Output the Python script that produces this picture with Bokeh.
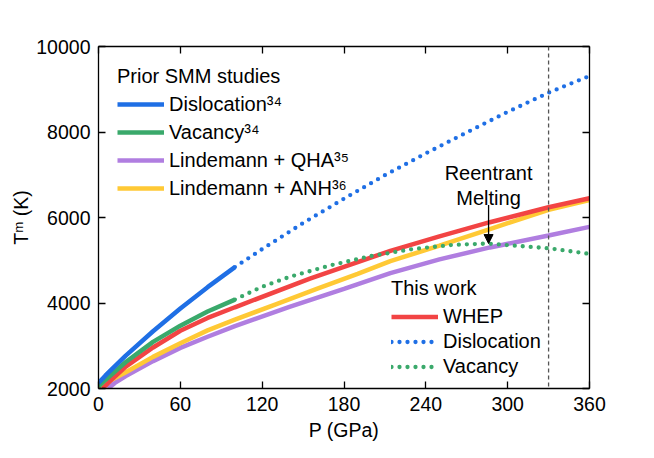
from bokeh.plotting import figure
from bokeh.models import (Legend, LegendItem, Span, Label, Arrow, NormalHead,
                          LinearAxis, FixedTicker, CustomJSTickFormatter, Range1d)
from bokeh.embed import file_html
from bokeh.resources import INLINE

# ---- data ----
x_ticks = [0, 60, 120, 180, 240, 300, 360]
y_ticks = [2000, 4000, 6000, 8000, 10000]

P_disl_prior = [0, 5, 10, 20, 40, 60, 80, 100]
T_disl_prior = [2130, 2300, 2460, 2770, 3340, 3870, 4370, 4840]
P_vac_prior = [0, 5, 10, 20, 40, 60, 80, 100]
T_vac_prior = [2050, 2200, 2340, 2620, 3090, 3470, 3800, 4080]
P_qha = [7, 12, 20, 40, 60, 80, 100, 140, 180, 214, 250, 287, 330, 360]
T_qha = [2000, 2130, 2290, 2640, 2950, 3210, 3460, 3910, 4330, 4700, 5020, 5300, 5580, 5780]
P_anh = [0, 5, 10, 20, 40, 60, 80, 100, 130, 160, 190, 214, 250, 287, 330, 360]
T_anh = [2040, 2130, 2210, 2380, 2740, 3060, 3360, 3610, 3970, 4330, 4680, 4980, 5340, 5730, 6180, 6410]
P_whep = [3, 10, 20, 40, 60, 80, 100, 155, 214, 250, 287, 330, 360]
T_whep = [2000, 2220, 2510, 2960, 3350, 3650, 3900, 4570, 5220, 5560, 5890, 6240, 6450]
P_disl = [100, 120, 150, 180, 210, 240, 270, 300, 330, 360]
T_disl = [4840, 5260, 5870, 6440, 6990, 7500, 7990, 8470, 8920, 9310]
P_vac = [100, 120, 140, 170, 200, 230, 260, 285, 310, 330, 360]
T_vac = [4080, 4380, 4610, 4880, 5100, 5260, 5360, 5390, 5330, 5280, 5150]

ICB_P = 330
REENTRANT_P = 286
ARROW_T_START = 6290
ARROW_T_END = 5390
LABEL1_T = 7035
LABEL2_T = 6450

BLUE = "#1f6fe5"
GREEN = "#3aa96b"
RED = "#f24444"
PURPLE = "#b07ee0"
YELLOW = "#ffc935"

FONT = "Liberation Sans"
FS = "19.5px"
FS_LEG = "20px"

p = figure(width=646, height=450, output_backend="svg", toolbar_location=None,
           x_range=Range1d(0, 360), y_range=Range1d(2000, 10000),
           min_border_left=98, min_border_right=57, min_border_top=46, min_border_bottom=62,
           x_axis_label="P (GPa)", y_axis_label="Tᵐ (K)")
p.grid.visible = False
p.outline_line_color = None
p.background_fill_color = "white"
p.border_fill_color = "white"

p.add_layout(LinearAxis(), "above")
p.add_layout(LinearAxis(), "right")

for ax in p.xaxis:
    ax.ticker = FixedTicker(ticks=x_ticks)
for ax in p.yaxis:
    ax.ticker = FixedTicker(ticks=y_ticks)
for ax in p.axis:
    ax.major_tick_in = 7
    ax.major_tick_out = 0
    ax.minor_tick_line_color = None
    ax.axis_line_width = 1.3
    ax.axis_line_color = "black"
    ax.major_tick_line_color = "black"
    ax.major_tick_line_width = 1.3
    ax.major_label_text_font = FONT
    ax.major_label_text_font_size = FS
    ax.major_label_text_color = "black"
    ax.axis_label_text_font = FONT
    ax.axis_label_text_font_size = FS
    ax.axis_label_text_font_style = "normal"
    ax.axis_label_text_color = "black"
    ax.major_label_standoff = 8

blank = CustomJSTickFormatter(code="return ''")
p.above[0].formatter = blank
p.right[0].formatter = blank
p.above[0].major_label_standoff = 0
p.right[0].major_label_standoff = 0
p.xaxis[0].major_label_standoff = 10
p.yaxis[0].axis_label_standoff = 1
p.xaxis[0].axis_label_standoff = 7

# ---- lines ----
LW = 4.5
r_qha = p.line(P_qha, T_qha, color=PURPLE, line_width=LW)
r_anh = p.line(P_anh, T_anh, color=YELLOW, line_width=LW)
r_whep = p.line(P_whep, T_whep, color=RED, line_width=LW)
r_vacp = p.line(P_vac_prior, T_vac_prior, color=GREEN, line_width=LW)
r_dislp = p.line(P_disl_prior, T_disl_prior, color=BLUE, line_width=LW)
r_vac = p.line(P_vac, T_vac, color=GREEN, line_width=4.3, line_dash="0 8", line_cap="round")
r_disl = p.line(P_disl, T_disl, color=BLUE, line_width=4.3, line_dash="0 8", line_cap="round")

# ---- ICB ----
p.add_layout(Span(location=ICB_P, dimension="height", line_color="#555555",
                  line_width=1.3, line_dash="4 3"))
p.add_layout(Label(x=ICB_P, y=10000, text="ICB (P = 330 GPa)", text_align="center",
                   text_baseline="alphabetic", y_offset=10.5, text_font=FONT,
                   text_font_size=FS_LEG, text_color="black"))

# ---- reentrant melting ----
p.add_layout(Label(x=REENTRANT_P, y=LABEL1_T, text="Reentrant", text_align="center",
                   text_baseline="alphabetic", text_font=FONT, text_font_size=FS_LEG,
                   text_color="black"))
p.add_layout(Label(x=REENTRANT_P, y=LABEL2_T, text="Melting", text_align="center",
                   text_baseline="alphabetic", text_font=FONT, text_font_size=FS_LEG,
                   text_color="black"))
p.add_layout(Arrow(x_start=REENTRANT_P, y_start=ARROW_T_START, x_end=REENTRANT_P,
                   y_end=ARROW_T_END, line_width=1.3, line_color="black",
                   end=NormalHead(size=9, fill_color="black", line_color="black", line_width=1)))

# ---- legends ----
def style(leg, h, ts):
    leg.title_text_font = FONT
    leg.title_text_font_size = FS_LEG
    leg.title_text_font_style = "normal"
    leg.title_text_color = "black"
    leg.label_text_font = FONT
    leg.label_text_font_size = FS_LEG
    leg.label_text_color = "black"
    leg.glyph_width = 47
    leg.glyph_height = h
    leg.label_height = h
    leg.spacing = 0
    leg.padding = 0
    leg.margin = 0
    leg.label_standoff = 5
    leg.title_standoff = ts
    leg.border_line_color = None
    leg.background_fill_alpha = 0

leg1 = Legend(items=[LegendItem(label="Dislocation³⁴", renderers=[r_dislp]),
                     LegendItem(label="Vacancy³⁴", renderers=[r_vacp]),
                     LegendItem(label="Lindemann + QHA³⁵", renderers=[r_qha]),
                     LegendItem(label="Lindemann + ANH³⁶", renderers=[r_anh])],
              title="Prior SMM studies", location=(19, 186))
style(leg1, 28, 2)
leg2 = Legend(items=[LegendItem(label="WHEP", renderers=[r_whep]),
                     LegendItem(label="Dislocation", renderers=[r_disl]),
                     LegendItem(label="Vacancy", renderers=[r_vac])],
              title="This work", location=(293, 9))
style(leg2, 25, 4)
p.add_layout(leg1)
p.add_layout(leg2)

open("out.html", "w").write(file_html(p, INLINE))
